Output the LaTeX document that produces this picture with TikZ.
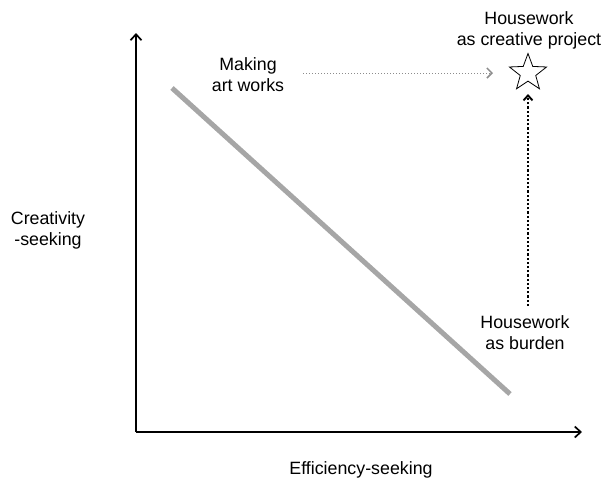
\documentclass[tikz,border=0pt]{standalone}
\usepackage{fontspec}
\setmainfont{Liberation Sans}
\usetikzlibrary{shapes.geometric,arrows.meta}
\begin{document}
\begin{tikzpicture}[x=1pt,y=-1pt,
  lbl/.style={align=center,font=\fontsize{17.8}{21}\selectfont,inner sep=0pt},
  axis/.style={line width=1.7pt,-{Straight Barb[length=6pt,width=11pt,line width=1.7pt]}}]
\useasboundingbox (0,0) rectangle (603,483);
\coordinate (O) at (136,432);
\coordinate (Ytop) at (136,33);
\coordinate (Xend) at (582,432);
\draw[axis] (O) -- (Ytop);
\draw[axis] (O) -- (Xend);
\coordinate (g1) at (172,88);
\coordinate (g2) at (510,394);
\draw[line width=5pt,color=black!35] (g1) -- (g2);
\node[star,star points=5,star point ratio=2.4,draw,line width=0.8pt,minimum size=39pt,inner sep=0pt] (star) at (528,73) {};
\node[lbl] (art) at (248,75) {Making\\art works};
\node[lbl] (hcp) at (529,30) {Housework\\as creative project};
\node[lbl] (hb) at (525,333) {Housework\\as burden};
\node[lbl] (cs) at (48,230) {Creativity\\-seeking};
\node[lbl] (es) at (361,470) {Efficiency-seeking};
\coordinate (a1) at (303,73);
\coordinate (a2) at (493,73);
\draw[black!45,line width=1pt,dotted,-{Straight Barb[length=5pt,width=10pt,line width=1.5pt]}] (a1) -- (a2);
\coordinate (b1) at (528,306);
\coordinate (b2) at (528,94);
\draw[black,line width=2.2pt,dotted,-{Straight Barb[length=5pt,width=9pt,line width=1.9pt]}] (b1) -- (b2);
\end{tikzpicture}
\end{document}
